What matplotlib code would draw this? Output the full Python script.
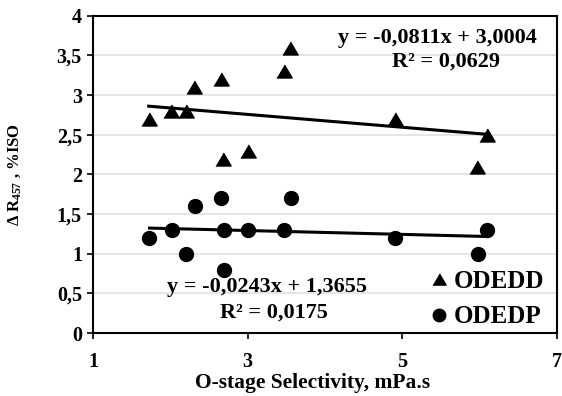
import matplotlib
matplotlib.use("Agg")
import matplotlib.pyplot as plt
import numpy as np

plt.rcParams['font.family'] = ['Liberation Serif', 'DejaVu Serif']
plt.rcParams['font.weight'] = 'bold'
plt.rcParams['axes.labelweight'] = 'bold'
plt.rcParams['mathtext.fontset'] = 'custom'
plt.rcParams['mathtext.rm'] = 'Liberation Serif:bold'
plt.rcParams['mathtext.it'] = 'Liberation Serif:bold'
plt.rcParams['mathtext.bf'] = 'Liberation Serif:bold'

# ODEDD (triangles)
odedd_x = [1.72, 2.01, 2.2, 2.31, 2.66, 2.68, 3.0, 3.47, 3.55, 4.91, 5.97, 6.1]
odedd_y = [2.7, 2.8, 2.8, 3.1, 3.2, 2.2, 2.3, 3.3, 3.6, 2.7, 2.1, 2.5]

# ODEDP (circles)
odedp_x = [1.73, 2.02, 2.2, 2.32, 2.66, 2.69, 2.69, 3.0, 3.47, 3.56, 4.91, 5.98, 6.1]
odedp_y = [1.2, 1.3, 1.0, 1.6, 1.7, 1.3, 0.8, 1.3, 1.3, 1.7, 1.2, 1.0, 1.3]

# linear trend: slope, intercept
fit_dd = (-0.0811, 3.0004)
fit_dp = (-0.0243, 1.3655)
eq_dd = ['y = -0,0811x + 3,0004', 'R² = 0,0629']
eq_dp = ['y = -0,0243x + 1,3655', 'R² = 0,0175']

xticks = [1, 3, 5, 7]
yticks = [0, 0.5, 1, 1.5, 2, 2.5, 3, 3.5, 4]

# slightly wide triangle, like the spreadsheet marker
tri = [(-1, -0.85), (1, -0.85), (0, 0.85)]

fig = plt.figure(figsize=(5.62, 3.96), dpi=100)
ax = fig.add_axes([0.1655, 0.159, 0.8255, 0.801])

for yv in yticks[1:-1]:
    ax.axhline(yv, color='#dde2e2', lw=1.2, zorder=0)

ax.plot(odedd_x, odedd_y, marker=tri, color='black', ms=11, ls='none', label='ODEDD', zorder=3)
ax.plot(odedp_x, odedp_y, 'o', color='black', ms=10, ls='none', label='ODEDP', zorder=3)

for xs, fit in ((odedd_x, fit_dd), (odedp_x, fit_dp)):
    xx = np.array([min(xs), max(xs)])
    ax.plot(xx, fit[0] * xx + fit[1], color='black', lw=2.2, zorder=2)

ax.text(0.743, 0.93, eq_dd[0], transform=ax.transAxes, ha='center', va='center', fontsize=16)
ax.text(0.76, 0.855, eq_dd[1], transform=ax.transAxes, ha='center', va='center', fontsize=16)
ax.text(0.375, 0.145, eq_dp[0], transform=ax.transAxes, ha='center', va='center', fontsize=16)
ax.text(0.39, 0.063, eq_dp[1], transform=ax.transAxes, ha='center', va='center', fontsize=16)

ax.set_xlim(1, 7)
ax.set_ylim(0, 4)
ax.set_xticks(xticks)
ax.set_xticklabels([str(v) for v in xticks])
ax.set_yticks(yticks)
ax.set_yticklabels([('%g' % v).replace('.', ',') for v in yticks])
ax.tick_params(axis='both', direction='out', length=4, width=1.2, labelsize=14.5)
ax.tick_params(axis='x', pad=10)
ax.tick_params(axis='y', pad=4)
for s in ax.spines.values():
    s.set_linewidth(1.5)

ax.set_xlabel('O-stage Selectivity, mPa.s', fontsize=15.5, fontweight='bold')
ax.xaxis.set_label_coords(0.474, -0.125)
ax.set_ylabel('Δ R$_{457}$ , %ISO', fontsize=12, fontweight='bold')
ax.yaxis.set_label_coords(-0.15, 0.5)

leg = ax.legend(loc='lower right', bbox_to_anchor=(1.0, -0.025), frameon=False,
                prop={'family': 'Liberation Serif', 'weight': 'bold', 'size': 18},
                handletextpad=0.15, handlelength=0.9, labelspacing=0.5, borderaxespad=0.1)
leg.legend_handles[0].set_markersize(9.5)
leg.legend_handles[1].set_markersize(9)

fig.savefig('out.png', dpi=100)
